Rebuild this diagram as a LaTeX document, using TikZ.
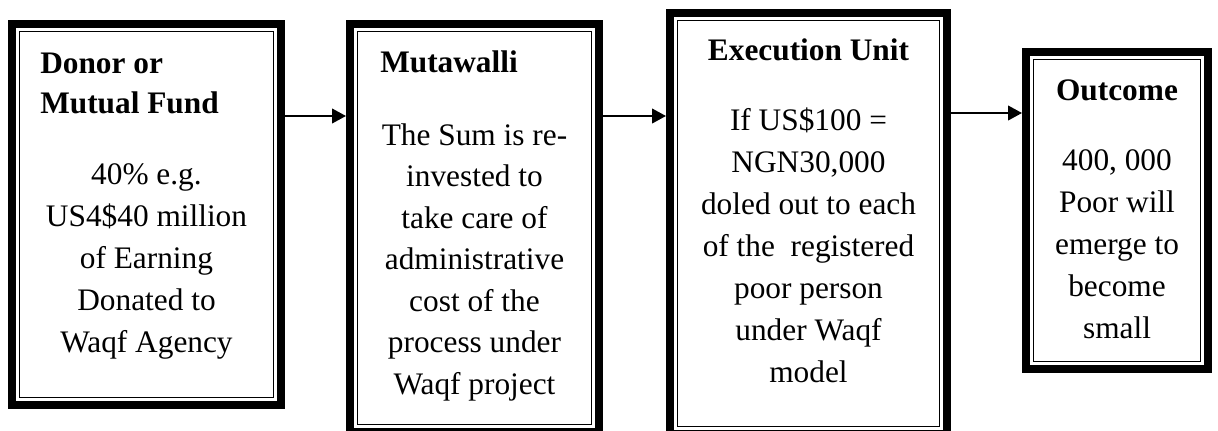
\documentclass[tikz,border=0pt]{standalone}
\usepackage{fontspec}
\setmainfont{Liberation Serif}
\usetikzlibrary{arrows.meta}

\tikzset{
  frame/.style={draw, line width=6pt, inner sep=0pt},
  inner rule/.style={draw, line width=1.1pt},
  head/.style={inner sep=0pt, font=\fontsize{23.5}{30}\selectfont\bfseries},
  body/.style={inner sep=0pt, align=center, font=\fontsize{23.5}{31.5}\selectfont},
  flow/.style={line width=1.5pt, -{Triangle[length=10.5pt, width=11pt]}}
}
\newcommand\doubleframe[1]{%
  \draw[inner rule] ([shift={(11.5,11.5)}]#1.north west) rectangle ([shift={(-11.5,-11.5)}]#1.south east);}

\begin{document}
\begin{tikzpicture}[x=0.75pt, y=-0.75pt]
\clip (0,0) rectangle (1218,430);
\fill[white] (0,0) rectangle (1218,430);

% the four framed stages
\node[frame, minimum width=201.75pt, minimum height=285.75pt] (donor) at (146.5,214.5) {};
\node[frame, minimum width=186.75pt, minimum height=306pt]    (mutawalli) at (474.5,228) {};
\node[frame, minimum width=207.75pt, minimum height=315.75pt] (execution) at (808.5,223.5) {};
\node[frame, minimum width=136.5pt,  minimum height=237.75pt] (outcome) at (1117,210.5) {};
\doubleframe{donor}
\doubleframe{mutawalli}
\doubleframe{execution}
\doubleframe{outcome}

% headings (base anchor sits on the last line)
\node[head, anchor=base west, align=left] (donorhead) at (40,113) {Donor or\\Mutual Fund};
\node[head, anchor=base west] (mutawallihead) at (380,72) {Mutawalli};
\node[head, anchor=base] (executionhead) at (808.5,60) {Execution Unit};
\node[head, anchor=base] (outcomehead) at (1117,100) {Outcome};

% descriptions (base anchor sits on the last line)
\node[body, anchor=base] (donortext) at (146.5,352)
  {40\% e.g.\\US4\$40 million\\of Earning\\Donated to\\Waqf Agency};
\node[body, anchor=base, font=\fontsize{23.5}{31.1}\selectfont] (mutawallitext) at (474.5,394)
  {The Sum is re-\\invested to\\take care of\\administrative\\cost of the\\process under\\Waqf project};
\node[body, anchor=base] (executiontext) at (808.5,382)
  {If US\$100 =\\NGN30,000\\doled out to each\\of the\ \ registered\\poor person\\under Waqf\\model};
\node[body, anchor=base] (outcometext) at (1117,338)
  {400, 000\\Poor will\\emerge to\\become\\small};

% flow between stages
\coordinate (upper) at (0,116);
\coordinate (lower) at (0,113);
\draw[flow] (donor.east |- upper) -- (mutawalli.west |- upper);
\draw[flow] (mutawalli.east |- upper) -- (execution.west |- upper);
\draw[flow] (execution.east |- lower) -- (outcome.west |- lower);
\end{tikzpicture}
\end{document}
